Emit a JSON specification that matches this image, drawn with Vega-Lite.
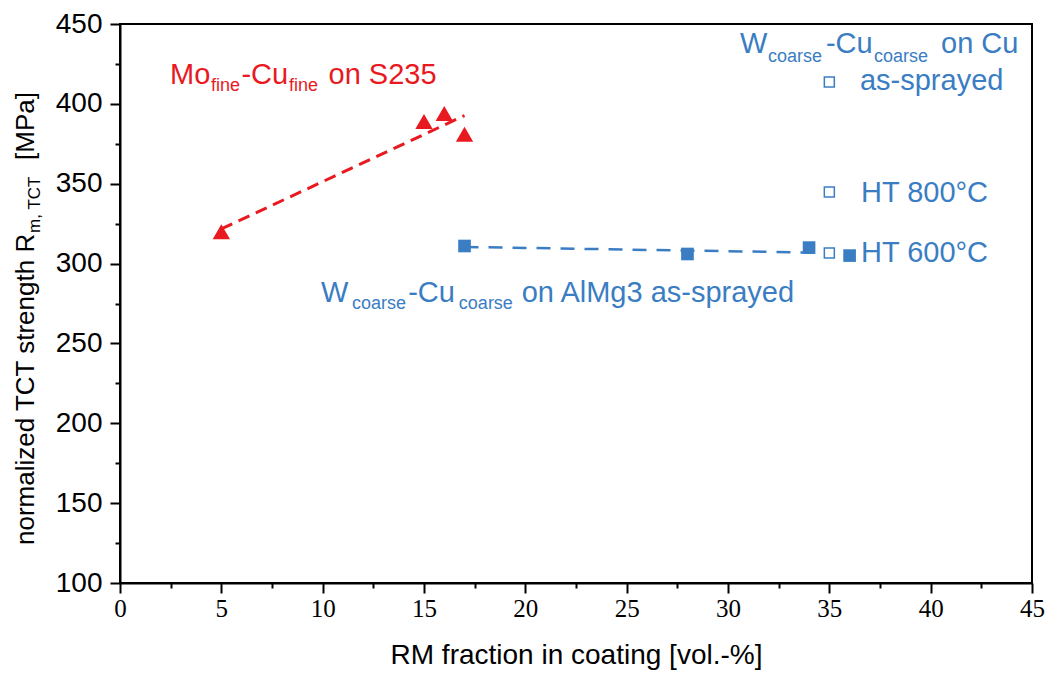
{
  "$schema": "https://vega.github.io/schema/vega-lite/v6.json",
  "width": 912,
  "height": 559,
  "autosize": {"type": "none"},
  "padding": {"left": 120, "top": 24, "right": 19, "bottom": 95},
  "background": "white",
  "config": {
    "view": {"stroke": "black", "strokeWidth": 2},
    "font": "Liberation Sans"
  },
  "datasets": {
    "mo": [
      {"rm": 5, "tct": 320},
      {"rm": 15, "tct": 389},
      {"rm": 16, "tct": 394},
      {"rm": 17, "tct": 381}
    ],
    "mofit": [
      {"rm": 5, "tct": 321.7},
      {"rm": 17, "tct": 392.7}
    ],
    "walmg": [
      {"rm": 17, "tct": 311},
      {"rm": 28, "tct": 306},
      {"rm": 34, "tct": 310},
      {"rm": 36, "tct": 305}
    ],
    "walmgfit": [
      {"rm": 17, "tct": 310.4},
      {"rm": 34.6, "tct": 306.8}
    ],
    "wcu": [
      {"rm": 35, "tct": 413.7, "state": "as-sprayed"},
      {"rm": 35, "tct": 344.8, "state": "HT 800°C"},
      {"rm": 35, "tct": 306.6, "state": "HT 600°C"}
    ],
    "notes": [
      {"rm": 2.47, "tct": 412.2, "text": "Mo", "group": "Mo-Cu on S235", "role": "main"},
      {"rm": 4.49, "tct": 408.0, "text": "fine", "group": "Mo-Cu on S235", "role": "sub"},
      {"rm": 5.99, "tct": 412.2, "text": "-Cu", "group": "Mo-Cu on S235", "role": "main"},
      {"rm": 8.34, "tct": 408.0, "text": "fine", "group": "Mo-Cu on S235", "role": "sub"},
      {"rm": 10.29, "tct": 412.2, "text": "on S235", "group": "Mo-Cu on S235", "role": "main"},
      {"rm": 30.59, "tct": 431.7, "text": "W", "group": "W-Cu", "role": "main"},
      {"rm": 31.97, "tct": 426.4, "text": "coarse", "group": "W-Cu", "role": "sub"},
      {"rm": 34.83, "tct": 431.7, "text": "-Cu", "group": "W-Cu", "role": "main"},
      {"rm": 37.20, "tct": 426.4, "text": "coarse", "group": "W-Cu", "role": "sub"},
      {"rm": 40.51, "tct": 431.7, "text": "on Cu", "group": "W-Cu", "role": "main"},
      {"rm": 36.51, "tct": 408.7, "text": "as-sprayed", "group": "W-Cu", "role": "main"},
      {"rm": 36.56, "tct": 338.8, "text": "HT 800°C", "group": "W-Cu", "role": "main"},
      {"rm": 36.56, "tct": 301.2, "text": "HT 600°C", "group": "W-Cu", "role": "main"},
      {"rm": 9.92, "tct": 276.1, "text": "W", "group": "W-Cu", "role": "main"},
      {"rm": 11.45, "tct": 271.6, "text": "coarse", "group": "W-Cu", "role": "sub"},
      {"rm": 14.22, "tct": 276.1, "text": "-Cu", "group": "W-Cu", "role": "main"},
      {"rm": 16.72, "tct": 271.6, "text": "coarse", "group": "W-Cu", "role": "sub"},
      {"rm": 19.82, "tct": 276.1, "text": "on AlMg3 as-sprayed", "group": "W-Cu", "role": "main"}
    ],
    "ytitle": [
      {"rm": -4.24, "tct": 123.8, "text": "normalized TCT strength R", "role": "main"},
      {"rm": -3.95, "tct": 319.2, "text": "m, TCT", "role": "sub"},
      {"rm": -4.24, "tct": 364.9, "text": "[MPa]", "role": "main"}
    ]
  },
  "resolve": {"axis": {"x": "independent", "y": "independent"}},
  "layer": [
    {
      "data": {"name": "mofit"},
      "mark": {"type": "line", "color": "#e8191f", "strokeWidth": 3, "strokeDash": [12, 7]},
      "encoding": {
        "x": {"field": "rm", "type": "quantitative",
          "scale": {"domain": [0, 45], "nice": false, "zero": false},
          "axis": {"orient": "bottom", "values": [0, 5, 10, 15, 20, 25, 30, 35, 40, 45],
            "tickSize": 10, "tickWidth": 2, "tickColor": "black",
            "domainColor": "black", "domainWidth": 2,
            "labelFontSize": 25, "labelFont": "Liberation Sans Narrow", "labelColor": "black",
            "labelPadding": 3, "labelFlush": false, "labelOverlap": false, "grid": false,
            "title": "RM fraction in coating [vol.-%]", "titleFontSize": 28,
            "titleFontWeight": "normal", "titleColor": "black", "titleFont": "Liberation Sans",
            "titlePadding": 20}},
        "y": {"field": "tct", "type": "quantitative",
          "scale": {"domain": [100, 450], "nice": false, "zero": false},
          "axis": {"orient": "left", "values": [100, 150, 200, 250, 300, 350, 400, 450],
            "tickSize": 10, "tickWidth": 2, "tickColor": "black",
            "domainColor": "black", "domainWidth": 2,
            "labelFontSize": 28, "labelColor": "black", "labelPadding": 8,
            "labelFlush": false, "labelOverlap": false, "grid": false, "title": null}}
      }
    },
    {
      "data": {"name": "walmgfit"},
      "mark": {"type": "line", "color": "#3a7dc3", "strokeWidth": 2.5, "strokeDash": [14, 10]},
      "encoding": {
        "x": {"field": "rm", "type": "quantitative",
          "axis": {"orient": "bottom", "values": [2.5, 7.5, 12.5, 17.5, 22.5, 27.5, 32.5, 37.5, 42.5],
            "tickSize": 5, "tickWidth": 2, "tickColor": "black", "domain": false,
            "labels": false, "grid": false, "title": null}},
        "y": {"field": "tct", "type": "quantitative",
          "axis": {"orient": "left", "values": [125, 175, 225, 275, 325, 375, 425],
            "tickSize": 5, "tickWidth": 2, "tickColor": "black", "domain": false,
            "labels": false, "grid": false, "title": null}}
      }
    },
    {
      "data": {"name": "mo"},
      "mark": {"type": "point", "shape": "triangle-up", "filled": true, "color": "#e8191f", "size": 300, "opacity": 1},
      "encoding": {
        "x": {"field": "rm", "type": "quantitative", "axis": null},
        "y": {"field": "tct", "type": "quantitative", "axis": null}
      }
    },
    {
      "data": {"name": "walmg"},
      "mark": {"type": "point", "shape": "square", "filled": true, "color": "#3a7dc3", "size": 160, "opacity": 1},
      "encoding": {
        "x": {"field": "rm", "type": "quantitative", "axis": null},
        "y": {"field": "tct", "type": "quantitative", "axis": null}
      }
    },
    {
      "data": {"name": "wcu"},
      "mark": {"type": "point", "shape": "square", "filled": false, "fill": "white", "fillOpacity": 1, "stroke": "#3a7dc3", "strokeWidth": 1.5, "size": 100, "opacity": 1},
      "encoding": {
        "x": {"field": "rm", "type": "quantitative", "axis": null},
        "y": {"field": "tct", "type": "quantitative", "axis": null}
      }
    },
    {
      "data": {"name": "notes"},
      "transform": [{"filter": "datum.role === 'main'"}],
      "mark": {"type": "text", "align": "left", "baseline": "alphabetic", "fontSize": 29, "font": "Liberation Sans"},
      "encoding": {
        "x": {"field": "rm", "type": "quantitative", "axis": null},
        "y": {"field": "tct", "type": "quantitative", "axis": null},
        "text": {"field": "text"},
        "color": {"field": "group", "type": "nominal", "legend": null,
          "scale": {"domain": ["Mo-Cu on S235", "W-Cu"], "range": ["#e8191f", "#3a7dc3"]}}
      }
    },
    {
      "data": {"name": "notes"},
      "transform": [{"filter": "datum.role === 'sub'"}],
      "mark": {"type": "text", "align": "left", "baseline": "alphabetic", "fontSize": 18, "font": "Liberation Sans"},
      "encoding": {
        "x": {"field": "rm", "type": "quantitative", "axis": null},
        "y": {"field": "tct", "type": "quantitative", "axis": null},
        "text": {"field": "text"},
        "color": {"field": "group", "type": "nominal", "legend": null,
          "scale": {"domain": ["Mo-Cu on S235", "W-Cu"], "range": ["#e8191f", "#3a7dc3"]}}
      }
    },
    {
      "data": {"name": "ytitle"},
      "transform": [{"filter": "datum.role === 'main'"}],
      "mark": {"type": "text", "align": "left", "baseline": "alphabetic", "angle": 270, "fontSize": 26, "font": "Liberation Sans", "color": "black"},
      "encoding": {
        "x": {"field": "rm", "type": "quantitative", "axis": null},
        "y": {"field": "tct", "type": "quantitative", "axis": null},
        "text": {"field": "text"}
      }
    },
    {
      "data": {"name": "ytitle"},
      "transform": [{"filter": "datum.role === 'sub'"}],
      "mark": {"type": "text", "align": "left", "baseline": "alphabetic", "angle": 270, "fontSize": 17, "font": "Liberation Sans", "color": "black"},
      "encoding": {
        "x": {"field": "rm", "type": "quantitative", "axis": null},
        "y": {"field": "tct", "type": "quantitative", "axis": null},
        "text": {"field": "text"}
      }
    }
  ]
}
